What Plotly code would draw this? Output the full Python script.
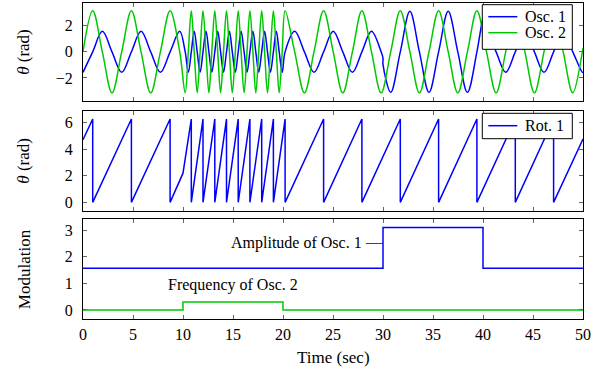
import plotly.graph_objects as go

# ---------------- data ----------------
# Osc. 2 : key points (zero crossings, peaks, troughs)
osc2_t = [0.00, 0.97, 1.935, 2.90, 3.87, 4.84, 5.805, 6.77, 7.74, 8.71, 9.675,
          10.22, 10.53, 10.83, 11.12, 11.42, 11.71, 12.00, 12.30, 12.59, 12.88,
          13.18, 13.47, 13.76, 14.05, 14.35, 14.64, 14.93, 15.23, 15.52, 15.81,
          16.11, 16.40, 16.69, 16.99, 17.28, 17.57, 17.87, 18.16, 18.45, 18.74,
          19.04, 19.33, 19.62, 19.92, 20.21, 21.17, 22.14, 23.10, 24.06, 25.02,
          25.98, 26.94, 27.89, 28.85, 29.81, 30.77, 31.73, 32.69, 33.64, 34.60,
          35.56, 36.52, 37.48, 38.44, 39.39, 40.35, 41.31, 42.27, 43.23, 44.19,
          45.14, 46.10, 47.06, 48.02, 48.98, 49.94, 50.00]
osc2_y = [0, 3.14, 0, -3.14, 0, 3.14, 0, -3.14, 0, 3.14, 0,
          -3.14, 0, 3.14, 0, -3.14, 0, 3.14, 0, -3.14, 0,
          3.14, 0, -3.14, 0, 3.14, 0, -3.14, 0, 3.14, 0,
          -3.14, 0, 3.14, 0, -3.14, 0, 3.14, 0, -3.14, 0,
          3.14, 0, -3.14, 0, 3.14, 0, -3.14, 0, 3.14, 0,
          -3.14, 0, 3.14, 0, -3.14, 0, 3.14, 0, -3.14, 0,
          3.14, 0, -3.14, 0, 3.14, 0, -3.14, 0, 3.14, 0,
          -3.14, 0, 3.14, 0, -3.14, 0, 0.30]

# Osc. 1 : key points
osc1_t = [0.00, 0.97, 1.935, 2.90, 3.87, 4.84, 5.805, 6.77, 7.74, 8.71, 9.675,
          10.22, 10.53, 10.83, 11.12, 11.42, 11.71, 12.00, 12.30, 12.59, 12.88,
          13.18, 13.47, 13.76, 14.05, 14.35, 14.64, 14.93, 15.23, 15.52, 15.81,
          16.11, 16.40, 16.69, 16.99, 17.28, 17.57, 17.87, 18.16, 18.45, 18.74,
          19.04, 19.33, 19.62, 19.92, 20.21, 21.17, 22.14, 23.10, 24.06, 25.02,
          25.98, 26.94, 27.89, 28.85, 29.81, 30.00, 30.00, 30.77, 31.73, 32.69,
          33.64, 34.60, 35.56, 36.52, 37.48, 38.44, 39.39, 40.00, 40.00, 40.35,
          41.31, 42.27, 43.23, 44.19, 45.14, 46.10, 47.06, 48.02, 48.98, 49.94,
          50.00]
osc1_y = [-1.57, 0, 1.57, 0, -1.57, 0, 1.57, 0, -1.57, 0, 1.57,
          0, -1.57, 0, 1.57, 0, -1.57, 0, 1.57, 0, -1.57,
          0, 1.57, 0, -1.57, 0, 1.57, 0, -1.57, 0, 1.57,
          0, -1.57, 0, 1.57, 0, -1.57, 0, 1.57, 0, -1.57,
          0, 1.57, 0, -1.57, 0, 1.57, 0, -1.57, 0, 1.57,
          0, -1.57, 0, 1.57, 0, -0.48, -0.96, -3.1, 0, 3.1,
          0, -3.1, 0, 3.1, 0, -3.1, 0, 2.62, 1.31, 1.57,
          0, -1.57, 0, 1.57, 0, -1.57, 0, 1.57, 0, -1.57,
          -1.56]

# Rot. 1 : sawtooth vertices
rot_t = [0.00, 0.97, 0.97, 4.84, 4.84, 8.71, 8.71, 10.00, 10.83, 10.83,
         12.00, 12.00, 13.18, 13.18, 14.35, 14.35, 15.52, 15.52, 16.69, 16.69,
         17.87, 17.87, 19.04, 19.04, 20.21, 20.21, 24.06, 24.06, 27.89, 27.89,
         31.73, 31.73, 35.56, 35.56, 39.39, 39.39, 43.23, 43.23, 47.06, 47.06,
         50.00]
rot_y = [4.72, 6.28, 0, 6.28, 0, 6.28, 0, 2.2, 6.28, 0,
         6.28, 0, 6.28, 0, 6.28, 0, 6.28, 0, 6.28, 0,
         6.28, 0, 6.28, 0, 6.28, 0, 6.28, 0, 6.28, 0,
         6.28, 0, 6.28, 0, 6.28, 0, 6.28, 0, 6.28, 0,
         4.78]

# Modulation signals (step changes)
amp1_t = [0, 30, 40, 50]
amp1_y = [1.57, 3.1, 1.57, 1.57]
freq2_t = [0, 10, 20, 50]
freq2_y = [0, 0.3, 0, 0]

x_ticks = [0, 5, 10, 15, 20, 25, 30, 35, 40, 45, 50]

BLUE = "#0000ff"
GREEN = "#00c800"
FONT = "Liberation Serif"

fig = go.Figure()
fig.add_trace(go.Scatter(x=osc1_t, y=osc1_y, name="Osc. 1", mode="lines",
                         line=dict(color=BLUE, width=1.5, shape="spline", smoothing=1.0),
                         xaxis="x", yaxis="y", showlegend=False))
fig.add_trace(go.Scatter(x=osc2_t, y=osc2_y, name="Osc. 2", mode="lines",
                         line=dict(color=GREEN, width=1.5, shape="spline", smoothing=1.0),
                         xaxis="x", yaxis="y", showlegend=False))
fig.add_trace(go.Scatter(x=rot_t, y=rot_y, name="Rot. 1", mode="lines",
                         line=dict(color=BLUE, width=1.5),
                         xaxis="x2", yaxis="y2", showlegend=False))
fig.add_trace(go.Scatter(x=amp1_t, y=amp1_y, name="Amplitude of Osc. 1", mode="lines",
                         line=dict(color=BLUE, width=1.5, shape="hv"),
                         xaxis="x3", yaxis="y3", showlegend=False))
fig.add_trace(go.Scatter(x=freq2_t, y=freq2_y, name="Frequency of Osc. 2", mode="lines",
                         line=dict(color=GREEN, width=1.5, shape="hv"),
                         xaxis="x3", yaxis="y3", showlegend=False))

axis_common = dict(showline=True, linecolor="black", linewidth=1, mirror="allticks",
                   ticks="inside", ticklen=4, tickcolor="#666", tickwidth=1,
                   showgrid=False, zeroline=False,
                   tickfont=dict(family=FONT, size=16, color="black"))

dom_top = [0.6908, 1.0]
dom_mid = [0.3427, 0.6592]
dom_bot = [0.0, 0.3155]

fig.update_layout(
    width=607, height=375,
    margin=dict(l=83, r=24, t=3, b=56),
    paper_bgcolor="white", plot_bgcolor="white",
    font=dict(family=FONT, size=16, color="black"),
    xaxis=dict(axis_common, range=[0, 50], tickvals=x_ticks, showticklabels=False,
               anchor="y", domain=[0, 1]),
    xaxis2=dict(axis_common, range=[0, 50], tickvals=x_ticks, showticklabels=False,
                anchor="y2", domain=[0, 1], matches="x"),
    xaxis3=dict(axis_common, range=[0, 50], tickvals=x_ticks, anchor="y3",
                domain=[0, 1], matches="x", ticklabelstandoff=1),
    yaxis=dict(axis_common, range=[-3.74, 3.74], tickvals=[-2, 0, 2],
               domain=dom_top, anchor="x", ticklabelstandoff=6),
    yaxis2=dict(axis_common, range=[-0.63, 6.91], tickvals=[0, 2, 4, 6],
                domain=dom_mid, anchor="x2", ticklabelstandoff=6),
    yaxis3=dict(axis_common, range=[-0.34, 3.41], tickvals=[0, 1, 2, 3],
                domain=dom_bot, anchor="x3", ticklabelstandoff=6),
    showlegend=False,
)

# legend boxes (paper coordinates)
def px_x(p):
    return (p - 83) / 500.0

def px_y(p):
    return (319 - p) / 316.0

shapes = [
    dict(type="rect", xref="paper", yref="paper", layer="above",
         x0=px_x(482.3), x1=px_x(572.3), y0=px_y(49.3), y1=px_y(4.7),
         fillcolor="white", line=dict(color="black", width=1)),
    dict(type="line", xref="paper", yref="paper", layer="above",
         x0=px_x(488.3), x1=px_x(517.3), y0=px_y(16.7), y1=px_y(16.7),
         line=dict(color=BLUE, width=1.5)),
    dict(type="line", xref="paper", yref="paper", layer="above",
         x0=px_x(488.3), x1=px_x(517.3), y0=px_y(32.7), y1=px_y(32.7),
         line=dict(color=GREEN, width=1.5)),
    dict(type="rect", xref="paper", yref="paper", layer="above",
         x0=px_x(482.3), x1=px_x(572.3), y0=px_y(138.7), y1=px_y(113.3),
         fillcolor="white", line=dict(color="black", width=1)),
    dict(type="line", xref="paper", yref="paper", layer="above",
         x0=px_x(488.3), x1=px_x(517.3), y0=px_y(125.7), y1=px_y(125.7),
         line=dict(color=BLUE, width=1.5)),
]

annos = [
    dict(text="<i>θ</i> (rad)", x=-0.118, y=sum(dom_top) / 2, xref="paper", yref="paper",
         textangle=-90, showarrow=False, font=dict(size=17), xanchor="center", yanchor="middle"),
    dict(text="<i>θ</i> (rad)", x=-0.118, y=sum(dom_mid) / 2, xref="paper", yref="paper",
         textangle=-90, showarrow=False, font=dict(size=17), xanchor="center", yanchor="middle"),
    dict(text="Modulation", x=-0.118, y=sum(dom_bot) / 2, xref="paper", yref="paper",
         textangle=-90, showarrow=False, font=dict(size=17), xanchor="center", yanchor="middle"),
    dict(text="Time (sec)", x=0.5, y=-0.1234, xref="paper", yref="paper",
         showarrow=False, font=dict(size=17), xanchor="center", yanchor="middle"),
    dict(text="Amplitude of Osc. 1", x=30, y=2.5, xref="x3", yref="y3",
         showarrow=True, arrowhead=0, arrowwidth=1, arrowcolor="#444",
         ax=-87, ay=0, borderpad=4, font=dict(size=16)),
    dict(text="Frequency of Osc. 2", x=15, y=0.93, xref="x3", yref="y3",
         showarrow=False, font=dict(size=16)),
    # legend labels
    dict(text="Osc. 1", x=px_x(522.7), y=px_y(16.7), xref="paper", yref="paper",
         xanchor="left", yanchor="middle", showarrow=False, font=dict(size=16)),
    dict(text="Osc. 2", x=px_x(522.7), y=px_y(32.7), xref="paper", yref="paper",
         xanchor="left", yanchor="middle", showarrow=False, font=dict(size=16)),
    dict(text="Rot. 1", x=px_x(522.7), y=px_y(125.7), xref="paper", yref="paper",
         xanchor="left", yanchor="middle", showarrow=False, font=dict(size=16)),
]
fig.update_layout(shapes=shapes, annotations=annos)

fig.write_html("out.html", config={"displayModeBar": False},
               post_script="document.body.style.margin='0';")
